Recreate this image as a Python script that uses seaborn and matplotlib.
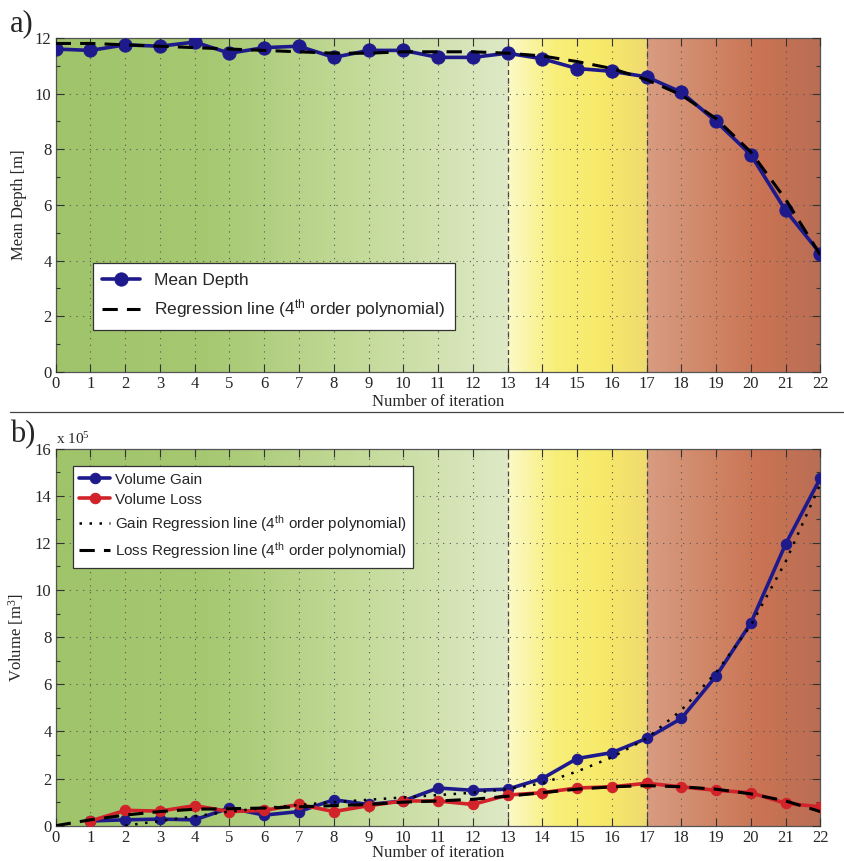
import numpy as np
import pandas as pd
import seaborn as sns
import matplotlib.pyplot as plt
from matplotlib.colors import LinearSegmentedColormap
from matplotlib.ticker import MultipleLocator

# Data
iterations = list(range(0, 23))
mean_depth = [11.6, 11.55, 11.75, 11.7, 11.85, 11.45, 11.65, 11.7, 11.3, 11.55, 11.55, 11.3,
              11.3, 11.45, 11.25, 10.9, 10.8, 10.6, 10.05, 9.0, 7.8, 5.8, 4.25]
depth_regression = [11.8, 11.8, 11.75, 11.7, 11.65, 11.6, 11.55, 11.5, 11.45, 11.45, 11.5, 11.5,
                    11.5, 11.45, 11.35, 11.15, 10.9, 10.5, 9.95, 9.1, 7.9, 6.2, 4.2]

vol_iter = list(range(1, 23))
volume_gain = [0.2, 0.25, 0.28, 0.25, 0.75, 0.45, 0.6, 1.1, 0.9, 1.05, 1.6, 1.5,
               1.55, 2.0, 2.85, 3.1, 3.7, 4.55, 6.35, 8.6, 11.95, 14.75]
volume_loss = [0.2, 0.65, 0.62, 0.85, 0.6, 0.65, 0.9, 0.6, 0.85, 1.05, 1.05, 0.9,
               1.3, 1.4, 1.6, 1.65, 1.8, 1.65, 1.5, 1.4, 0.95, 0.8]
gain_reg_iter = list(range(2, 23))
gain_regression = [0.0, 0.2, 0.4, 0.6, 0.75, 0.88, 1.0, 1.1, 1.2, 1.3, 1.4, 1.55, 1.8,
                   2.3, 2.9, 3.7, 4.9, 6.5, 8.5, 11.2, 14.5]
loss_regression = [0.0, 0.25, 0.45, 0.6, 0.7, 0.72, 0.75, 0.8, 0.85, 0.9, 1.0, 1.05, 1.12,
                   1.25, 1.4, 1.55, 1.65, 1.7, 1.65, 1.55, 1.35, 1.05, 0.6]

phase_edges = [0, 13, 17, 22]
phase_colors = [
    ['#9fc46a', '#a6c871', '#c3da98', '#dee9c5'],
    ['#fcf9c8', '#f8ef7a', '#f7ea6a', '#f0da70'],
    ['#d89c82', '#d08868', '#c97353', '#b96e55'],
]

sns.set_theme(style='white')
plt.rcParams['font.family'] = ['Liberation Serif', 'DejaVu Serif']
plt.rcParams['mathtext.default'] = 'regular'

blue = '#1e1a8c'
red = '#d2222a'


def shade(ax, ymax):
    for (x0, x1), cols in zip(zip(phase_edges[:-1], phase_edges[1:]), phase_colors):
        cmap = LinearSegmentedColormap.from_list('p', cols)
        grad = np.linspace(0, 1, 256).reshape(1, -1)
        ax.imshow(grad, extent=[x0, x1, 0, ymax], aspect='auto', cmap=cmap, zorder=0,
                  interpolation='bicubic')
    for xv in phase_edges[1:-1]:
        ax.axvline(xv, color='#444444', ls=(0, (4, 3)), lw=0.9, zorder=1)


def style(ax, ymax, ystep, xpad):
    ax.set_xlim(0, 22)
    ax.set_ylim(0, ymax)
    ax.xaxis.set_major_locator(MultipleLocator(1))
    ax.yaxis.set_major_locator(MultipleLocator(ystep))
    ax.yaxis.set_minor_locator(MultipleLocator(ystep / 2))
    ax.grid(True, which='major', color='#555555', ls=(0, (1, 5)), lw=0.8, zorder=1)
    ax.set_axisbelow(False)
    ax.tick_params(direction='in', which='both', top=True, right=True, bottom=True, left=True,
                   labelsize=12, length=6, width=0.8, color='#333333', pad=3)
    ax.tick_params(which='minor', length=3)
    for sp in ax.spines.values():
        sp.set_color('#555555')
        sp.set_linewidth(0.9)
    ax.set_xlabel('Number of iteration', fontsize=12, labelpad=xpad)


fig = plt.figure(figsize=(8.44, 8.61), dpi=100)
ax1 = fig.add_axes([0.066, 0.568, 0.906, 0.388])
ax2 = fig.add_axes([0.066, 0.041, 0.906, 0.438])

# a) Mean depth
shade(ax1, 12)
sns.lineplot(x=iterations, y=mean_depth, ax=ax1, color=blue, lw=2.6, marker='o', ms=9.5,
             markeredgecolor=blue, label='Mean Depth', zorder=3)
sns.lineplot(x=iterations, y=depth_regression, ax=ax1, color='black', lw=2.2,
             ls=(0, (5, 3)), label='Regression line (4$^{th}$ order polynomial)', zorder=4)
style(ax1, 12, 2, 1)
ax1.set_ylabel('Mean Depth [m]', fontsize=12, labelpad=6)
leg1 = ax1.legend(loc='lower left', bbox_to_anchor=(0.037, 0.1), prop={'family': 'Liberation Sans', 'size': 12.5},
                  frameon=True, fancybox=False, framealpha=1, edgecolor='#333333',
                  handlelength=2.2, borderpad=0.55, labelspacing=0.55)
leg1.get_frame().set_linewidth(0.9)

# b) Volume
shade(ax2, 16)
sns.lineplot(x=vol_iter, y=volume_gain, ax=ax2, color=blue, lw=2.6, marker='o', ms=7.5,
             markeredgecolor=blue, label='Volume Gain', zorder=3)
sns.lineplot(x=vol_iter, y=volume_loss, ax=ax2, color=red, lw=2.6, marker='o', ms=7.5,
             markeredgecolor=red, label='Volume Loss', zorder=3)
sns.lineplot(x=gain_reg_iter, y=gain_regression, ax=ax2, color='black', lw=1.8,
             ls=(0, (1, 3)), label='Gain Regression line (4$^{th}$ order polynomial)', zorder=4)
sns.lineplot(x=iterations, y=loss_regression, ax=ax2, color='black', lw=2.2,
             ls=(0, (5, 3)), label='Loss Regression line (4$^{th}$ order polynomial)', zorder=4)
style(ax2, 16, 2, -0.5)
ax2.set_ylabel('Volume [m$^3$]', fontsize=12, labelpad=6)
ax2.text(0.0, 1.005, 'x 10$^5$', transform=ax2.transAxes, fontsize=11, va='bottom', ha='left')
leg2 = ax2.legend(loc='upper left', bbox_to_anchor=(0.012, 0.975), prop={'family': 'Liberation Sans', 'size': 11},
                  frameon=True, fancybox=False, framealpha=1, edgecolor='#333333',
                  handlelength=2.0, handletextpad=0.3, borderpad=0.45, labelspacing=0.4)
leg2.get_frame().set_linewidth(0.9)

# panel labels and separator
fig.text(0.012, 0.972, 'a)', fontsize=22, va='center', ha='left')
fig.text(0.012, 0.495, 'b)', fontsize=22, va='center', ha='left')
fig.add_artist(plt.Line2D([0.012, 1.0], [0.521, 0.521], color='#444444', lw=0.9,
                          transform=fig.transFigure))

fig.savefig('out.png', dpi=100)
